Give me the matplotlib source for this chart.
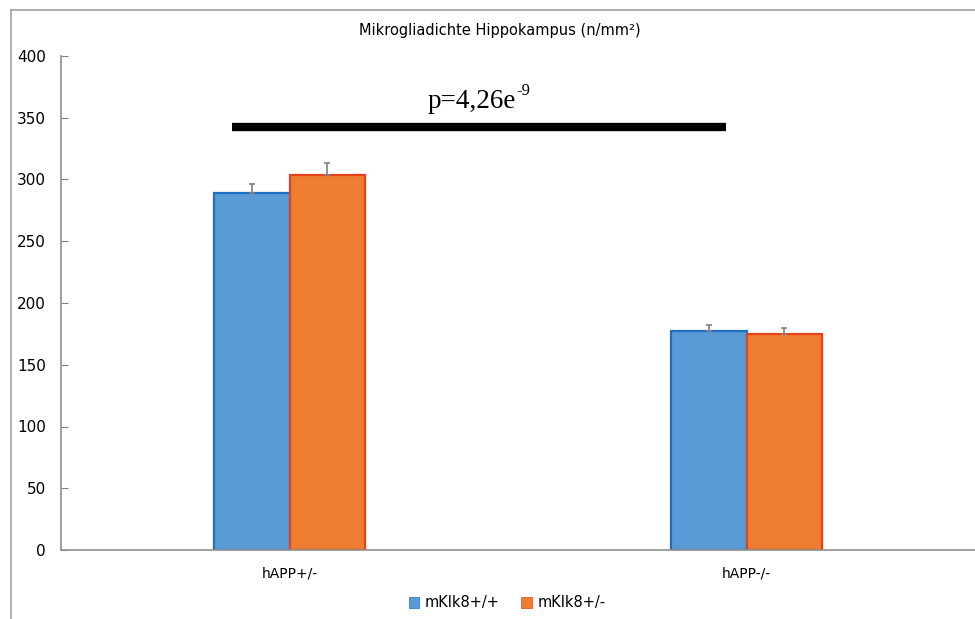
import matplotlib
matplotlib.use("Agg")
import matplotlib.pyplot as plt
import numpy as np
from matplotlib.lines import Line2D
from matplotlib.transforms import offset_copy

groups = ["hAPP+/-", "hAPP-/-"]
series = ["mKlk8+/+", "mKlk8+/-"]
means_wt = [289, 177]
means_het = [303.5, 175]
err_wt = [7, 5]
err_het = [9.5, 4.5]
p_main = "p=4,26e"
p_exp = "-9"
p_line_y = 342.5

W, H = 975, 619
fig = plt.figure(figsize=(W / 100, H / 100), dpi=100, facecolor="white")
ax = fig.add_axes([61 / W, (H - 550) / H, (W - 61) / W, (550 - 56) / H])

x = np.arange(len(groups))
bw = 0.165
fills = ["#5b9bd5", "#ed7d31"]
edges = ["#1f6fc5", "#e8401a"]
for i, (m, e) in enumerate([(means_wt, err_wt), (means_het, err_het)]):
    off = (i - 0.5) * bw
    ax.bar(x + off, m, bw, color=fills[i], edgecolor=edges[i], linewidth=1.6, label=series[i], zorder=2)
    ax.errorbar(x + off, m, yerr=[[0] * len(e), e], fmt="none", ecolor="#808080",
                elinewidth=1.2, capsize=2.5, capthick=1.2, zorder=3)

ax.set_xlim(-0.5, 1.5)
ax.set_ylim(0, 400)
ax.set_yticks(np.arange(0, 401, 50))
ax.set_xticks(x)
ax.set_xticklabels(groups)
ax.tick_params(axis="y", direction="in", length=5, color="#808080", labelsize=11, pad=11)
ax.tick_params(axis="x", length=0, labelsize=10, pad=12)
for s in ["top", "right"]:
    ax.spines[s].set_visible(False)
for s in ["left", "bottom"]:
    ax.spines[s].set_color("#909090")
    ax.spines[s].set_linewidth(1.2)

# significance bar + label with superscript exponent
ax.plot([-0.125, 0.955], [p_line_y, p_line_y], color="black", lw=6, solid_capstyle="butt", zorder=4)
t = ax.text(0.302, 357.5, p_main, ha="left", va="baseline", fontsize=19.5, family="Liberation Serif")
fig.canvas.draw()
bb = t.get_window_extent()
x_end = ax.transData.inverted().transform((bb.x1, 0))[0]
ax.text(x_end, 357.5, p_exp, ha="left", va="baseline", fontsize=12, family="Liberation Serif",
        transform=offset_copy(ax.transData, fig=fig, x=0.5, y=9.5, units="points"))

fig.text(500 / W, 1 - 30 / H, "Mikrogliadichte Hippokampus (n/mm²)", ha="center", va="center", fontsize=10.5)

leg = fig.legend(loc="center", bbox_to_anchor=(507 / W, 1 - 603 / H), ncol=2, frameon=False,
                 fontsize=10.5, handlelength=0.7, handleheight=0.7, columnspacing=1.5, handletextpad=0.4)
for h in leg.legend_handles:
    h.set_linewidth(0.5)

# outer frame
fig.add_artist(Line2D([11 / W, 11 / W], [0, 1 - 10 / H], color="#a0a0a0", lw=1.2, transform=fig.transFigure))
fig.add_artist(Line2D([11 / W, 1], [1 - 10 / H, 1 - 10 / H], color="#a0a0a0", lw=1.2, transform=fig.transFigure))

fig.savefig("out.png", dpi=100)
